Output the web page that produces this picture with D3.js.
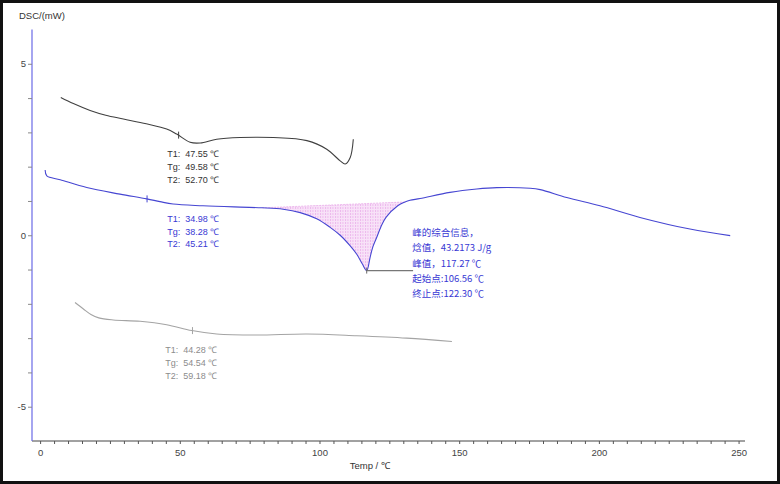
<!DOCTYPE html>
<html>
<head>
<meta charset="utf-8">
<script src="https://cdn.jsdelivr.net/npm/d3@7"></script>
<style>
  html, body { margin: 0; padding: 0; background: #fff; }
  svg { display: block; font-family: "Liberation Sans", Arial, sans-serif; }
</style>
</head>
<body>
<svg id="chart" width="780" height="484"></svg>
<script>
// sample 1 (black), readings in [temp, mW]
const blackCurve = [
  [7.4, 4.02], [11.9, 3.84], [17.9, 3.64], [23.5, 3.5], [29.8, 3.39], [38, 3.25], [45.3, 3.1],
  [48.9, 2.95], [53.7, 2.71], [57.3, 2.69], [63.2, 2.8], [71.6, 2.85], [83.5, 2.85],
  [95.5, 2.76], [102.6, 2.51], [107.4, 2.17], [109.2, 2.08], [111, 2.27], [112.1, 2.8]
];
// sample 2 (blue), with the melting peak
const blueCurve = [
  [1.8, 1.9], [2.4, 1.73], [7.2, 1.62], [16.7, 1.39], [28.6, 1.2], [38.2, 1.06],
  [42.9, 0.98], [47.6, 0.91], [58.3, 0.86], [71.6, 0.82], [79.5, 0.8], [87, 0.76],
  [93.1, 0.66], [99, 0.48], [103.8, 0.23], [107.4, 0.0], [111, -0.31], [113.4, -0.56],
  [115.3, -0.83], [116.9, -1.03], [118.1, -0.65], [119.1, -0.34], [120.5, -0.06],
  [122, 0.25], [123.8, 0.52], [128, 0.86], [130.6, 0.97], [132.4, 1.02], [136, 1.07],
  [146.7, 1.25], [156.3, 1.35], [163.5, 1.39], [175.4, 1.37], [179, 1.33],
  [188.5, 1.1], [200.4, 0.86], [214.7, 0.52], [232.6, 0.18], [247, -0.01]
];
// sample 3 (grey)
const greyCurve = [
  [12.5, -1.96], [15.5, -2.15], [18.2, -2.31], [21, -2.41], [26.2, -2.47], [35.8, -2.51],
  [45.3, -2.61], [54.3, -2.78], [63.2, -2.88], [77.6, -2.91], [95.5, -2.88],
  [113.3, -2.93], [131.2, -3.0], [147.4, -3.1]
];

const peakStart = 79.5;
const peakEnd = 130.6;
const peakMin = [116.9, -1.03];
const leaderEnd = 133.5;

const tgMarks = [[49.58, 2.92, "black"], [38.28, 1.06, "blue"], [54.54, -2.78, "grey"]];

const rowLabels = ["T1:", "Tg:", "T2:"];
const blackValues = ["47.55 ℃", "49.58 ℃", "52.70 ℃"];
const blueValues = ["34.98 ℃", "38.28 ℃", "45.21 ℃"];
const greyValues = ["44.28 ℃", "54.54 ℃", "59.18 ℃"];
const peakInfo = ["峰的综合信息，", "焓值，43.2173 J/g", "峰值，117.27 ℃", "起始点:106.56 ℃", "终止点:122.30 ℃"];

// label anchors in data units
const labelAnchors = [
  { x: 45.5, y: 2.35, values: blackValues, key: "black" },
  { x: 45.5, y: 0.46, values: blueValues, key: "blue" },
  { x: 44.8, y: -3.37, values: greyValues, key: "grey" }
];
const peakInfoAnchor = [133.2, 0.05];

const xTicks = d3.range(0, 251, 5);
const xLabels = [0, 50, 100, 150, 200, 250];
const yTicks = d3.range(-5, 6, 1);
const yLabels = [-5, 0, 5];

const colors = { black: "#404040", blue: "#4646d2", grey: "#a4a4a4" };
const textColors = { black: "#333", blue: "#3838d4", grey: "#8c8c8c" };

const svg = d3.select("#chart");
const W = 780, H = 484;

const x = d3.scaleLinear().domain([-2.9, 252.3]).range([32, 745]);
const y = d3.scaleLinear().domain([-6, 6]).range([441, 29.5]);

// frame
svg.append("rect")
  .attr("x", 1.5).attr("y", 1.5)
  .attr("width", W - 3).attr("height", H - 3)
  .attr("fill", "#fff")
  .attr("stroke", "#111")
  .attr("stroke-width", 3);

// hatch pattern for the integrated peak
const defs = svg.append("defs");
const pat = defs.append("pattern")
  .attr("id", "hatch")
  .attr("patternUnits", "userSpaceOnUse")
  .attr("width", 2.5).attr("height", 3);
pat.append("rect").attr("width", 2.5).attr("height", 3).attr("fill", "#f8e2f8");
pat.append("line")
  .attr("x1", 0.5).attr("x2", 0.5).attr("y1", 0).attr("y2", 2)
  .attr("stroke", "#e6a2e6").attr("stroke-width", 0.7);

// x axis
const xAxis = d3.axisBottom(x)
  .tickValues(xTicks)
  .tickSize(3)
  .tickFormat((d) => (xLabels.includes(d) ? d : ""));
const gx = svg.append("g")
  .attr("transform", `translate(0,${y(-6)})`)
  .call(xAxis);
gx.select(".domain").attr("stroke", "#444").attr("d", `M32,0H745`);
gx.selectAll(".tick line").attr("stroke", "#555");
gx.selectAll(".tick text")
  .attr("fill", "#444")
  .attr("font-size", 9.5)
  .attr("dy", "0.9em");

// y axis
const yAxis = d3.axisLeft(y)
  .tickValues(yTicks)
  .tickSize(4)
  .tickFormat((d) => (yLabels.includes(d) ? d : ""));
const gy = svg.append("g")
  .attr("transform", `translate(${x(-2.9)},0)`)
  .call(yAxis);
gy.select(".domain").attr("stroke", "#6a6ae6").attr("stroke-width", 1.2)
  .attr("d", `M0,${y(6)}V${y(-6)}`);
gy.selectAll(".tick line").attr("stroke", "#888");
gy.selectAll(".tick text")
  .attr("fill", "#444")
  .attr("font-size", 9.5)
  .attr("x", -6);

// axis titles
svg.append("text")
  .attr("x", 19).attr("y", 19)
  .attr("font-size", 9.5).attr("fill", "#333")
  .text("DSC/(mW)");
svg.append("text")
  .attr("x", x(118)).attr("y", 469)
  .attr("text-anchor", "middle")
  .attr("font-size", 9.5).attr("fill", "#333")
  .text("Temp / ℃");

// peak area
const baseY = d3.scaleLinear()
  .domain([peakStart, peakEnd])
  .range([blueCurve.find((d) => d[0] === peakStart)[1], blueCurve.find((d) => d[0] === peakEnd)[1]]);
const peakPts = blueCurve.filter((d) => d[0] >= peakStart && d[0] <= peakEnd);
svg.append("path")
  .datum(peakPts)
  .attr("fill", "url(#hatch)")
  .attr("stroke", "none")
  .attr("d", d3.area()
    .curve(d3.curveCatmullRom.alpha(0.5))
    .x((d) => x(d[0]))
    .y0((d) => y(baseY(d[0])))
    .y1((d) => y(d[1])));
svg.append("line")
  .attr("x1", x(peakStart)).attr("y1", y(baseY(peakStart)))
  .attr("x2", x(peakEnd)).attr("y2", y(baseY(peakEnd)))
  .attr("stroke", "#eab0ea").attr("stroke-width", 0.8)
  .attr("stroke-dasharray", "2,1");

// curves
const line = d3.line()
  .curve(d3.curveCatmullRom.alpha(0.5))
  .x((d) => x(d[0]))
  .y((d) => y(d[1]));

[[blackCurve, "black"], [blueCurve, "blue"], [greyCurve, "grey"]].forEach(([data, key]) => {
  svg.append("path")
    .datum(data)
    .attr("fill", "none")
    .attr("stroke", colors[key])
    .attr("stroke-width", 1.1)
    .attr("stroke-linejoin", "round")
    .attr("d", line);
});

// Tg markers
svg.selectAll(".tg")
  .data(tgMarks)
  .enter()
  .append("line")
  .attr("x1", (d) => x(d[0])).attr("x2", (d) => x(d[0]))
  .attr("y1", (d) => y(d[1]) - 3.5).attr("y2", (d) => y(d[1]) + 3.5)
  .attr("stroke", (d) => colors[d[2]])
  .attr("stroke-width", 1);

// leader from peak minimum
svg.append("line")
  .attr("x1", x(peakMin[0])).attr("y1", y(peakMin[1]))
  .attr("x2", x(leaderEnd)).attr("y2", y(peakMin[1]))
  .attr("stroke", "#777").attr("stroke-width", 1.2);
svg.append("line")
  .attr("x1", x(peakMin[0])).attr("y1", y(peakMin[1]) - 3)
  .attr("x2", x(peakMin[0])).attr("y2", y(peakMin[1]) + 3)
  .attr("stroke", "#666").attr("stroke-width", 1);

// T1 / Tg / T2 labels
labelAnchors.forEach((a) => {
  const g = svg.append("g")
    .attr("font-size", 9)
    .attr("fill", textColors[a.key]);
  a.values.forEach((v, i) => {
    const ty = y(a.y) + i * 12.8;
    g.append("text")
      .attr("x", x(a.x)).attr("y", ty)
      .attr("dominant-baseline", "middle")
      .text(rowLabels[i]);
    g.append("text")
      .attr("x", x(a.x) + 18).attr("y", ty)
      .attr("dominant-baseline", "middle")
      .text(v);
  });
});

// peak information
const pg = svg.append("g")
  .attr("font-size", 9.5)
  .attr("fill", textColors.blue)
  .attr("font-family", "'Noto Sans CJK SC', 'Liberation Sans', sans-serif");
peakInfo.forEach((t, i) => {
  pg.append("text")
    .attr("x", x(peakInfoAnchor[0]))
    .attr("y", y(peakInfoAnchor[1]) + i * 15.3)
    .attr("dominant-baseline", "middle")
    .text(t);
});
</script>
</body>
</html>
